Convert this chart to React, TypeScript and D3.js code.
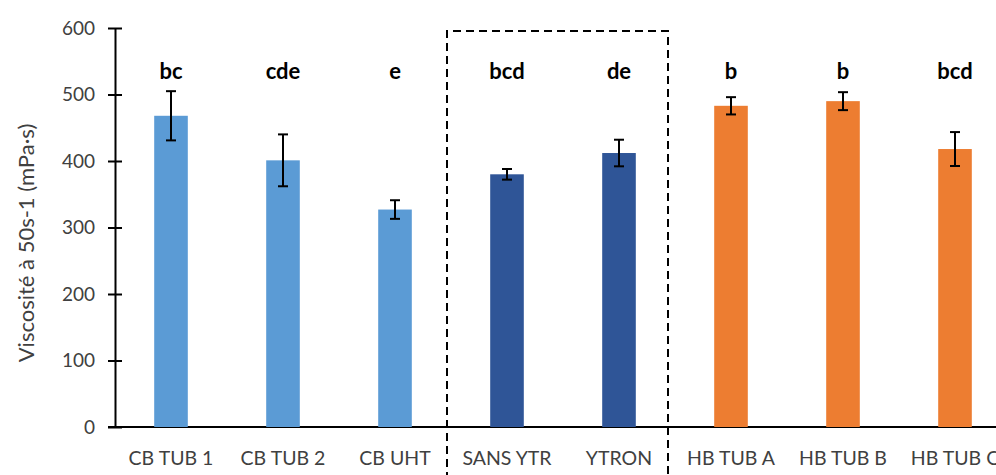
import { useEffect, useRef } from 'react';
import * as d3 from 'd3';

const categories = ['CB TUB 1', 'CB TUB 2', 'CB UHT', 'SANS YTR', 'YTRON', 'HB TUB A', 'HB TUB B', 'HB TUB C'];
const values = [468, 401, 327, 380, 412, 483, 490, 418];
const errors = [37, 39, 14, 8, 20, 13, 13.5, 25.5];
const letters = ['bc', 'cde', 'e', 'bcd', 'de', 'b', 'b', 'bcd'];
const groups = ['cb', 'cb', 'cb', 'ytr', 'ytr', 'hb', 'hb', 'hb'];
const boxed = ['SANS YTR', 'YTRON'];
const yTicks = [0, 100, 200, 300, 400, 500, 600];

const colors: Record<string, string> = { cb: '#5B9BD5', ytr: '#2F5597', hb: '#ED7D31' };

export default function App() {
  const ref = useRef<SVGSVGElement | null>(null);

  useEffect(() => {
    if (!ref.current) return;
    const svg = d3.select(ref.current);
    svg.selectAll('*').remove();

    const width = 996;
    const height = 475;
    const left = 115;
    const step = 112;
    const font = 'Lato, "Open Sans", sans-serif';

    svg.attr('width', width).attr('height', height);

    const x = d3.scaleBand()
      .domain(categories)
      .range([left, left + step * categories.length])
      .paddingInner(0.7)
      .paddingOuter(0.35);

    const y = d3.scaleLinear().domain([0, 600]).range([427, 28]);

    const data = categories.map((c, i) => ({
      cat: c, value: values[i], err: errors[i], letter: letters[i], group: groups[i],
    }));

    // y axis
    const yAxis = svg.append('g')
      .attr('transform', `translate(${left},0)`)
      .call(d3.axisLeft(y).tickValues(yTicks).tickSize(7).tickSizeOuter(0));
    yAxis.select('.domain').attr('stroke', '#000').attr('stroke-width', 2);
    yAxis.selectAll('.tick line').attr('stroke', '#000').attr('stroke-width', 2).attr('x2', 7).attr('x1', -7);
    yAxis.selectAll('.tick text')
      .attr('x', -20)
      .attr('fill', '#404040')
      .style('font-family', font)
      .style('font-size', '19px');

    // x axis line
    svg.append('line')
      .attr('x1', 108).attr('x2', width)
      .attr('y1', y(0)).attr('y2', y(0))
      .attr('stroke', '#000').attr('stroke-width', 2);

    const bw = x.bandwidth();

    svg.append('g').selectAll('rect')
      .data(data)
      .enter()
      .append('rect')
      .attr('x', d => x(d.cat)!)
      .attr('y', d => y(d.value))
      .attr('width', bw)
      .attr('height', d => y(0) - y(d.value))
      .attr('fill', d => colors[d.group]);

    // error bars
    const eb = svg.append('g').attr('stroke', '#000').attr('stroke-width', 2);
    data.forEach(d => {
      const cx = x(d.cat)! + bw / 2;
      eb.append('line').attr('x1', cx).attr('x2', cx).attr('y1', y(d.value + d.err)).attr('y2', y(d.value - d.err));
      eb.append('line').attr('x1', cx - 5).attr('x2', cx + 5).attr('y1', y(d.value + d.err)).attr('y2', y(d.value + d.err));
      eb.append('line').attr('x1', cx - 5).attr('x2', cx + 5).attr('y1', y(d.value - d.err)).attr('y2', y(d.value - d.err));
    });

    // significance letters
    svg.append('g').selectAll('text')
      .data(data)
      .enter()
      .append('text')
      .attr('x', d => x(d.cat)! + bw / 2)
      .attr('y', 79)
      .attr('text-anchor', 'middle')
      .style('font-family', font)
      .style('font-weight', 'bold')
      .style('font-size', '22px')
      .attr('fill', '#000')
      .text(d => d.letter);

    // category labels
    svg.append('g').selectAll('text')
      .data(data)
      .enter()
      .append('text')
      .attr('x', d => x(d.cat)! + bw / 2)
      .attr('y', 465)
      .attr('text-anchor', 'middle')
      .style('font-family', font)
      .style('font-size', '19.5px')
      .attr('fill', '#404040')
      .text(d => d.cat);

    // dashed box round the YTRON group
    const gap = (x.step() - bw) / 2;
    const bx0 = x(boxed[0])! - gap - 4;
    const bx1 = x(boxed[boxed.length - 1])! + bw + gap - 7;
    svg.append('path')
      .attr('d', `M${bx0},${height + 5} V${y(600) + 3} H${bx1} V${height + 5}`)
      .attr('fill', 'none')
      .attr('stroke', '#000')
      .attr('stroke-width', 2)
      .attr('stroke-dasharray', '8,5');

    // y axis title
    svg.append('text')
      .attr('transform', `translate(34,243) rotate(-90)`)
      .attr('text-anchor', 'middle')
      .style('font-family', font)
      .style('font-size', '22px')
      .attr('fill', '#404040')
      .text('Viscosité  à 50s-1 (mPa·s)');
  }, []);

  return (
    <div style={{ position: 'absolute', left: 0, top: 0, background: '#fff' }}>
      <svg ref={ref} style={{ display: 'block' }}></svg>
    </div>
  );
}
